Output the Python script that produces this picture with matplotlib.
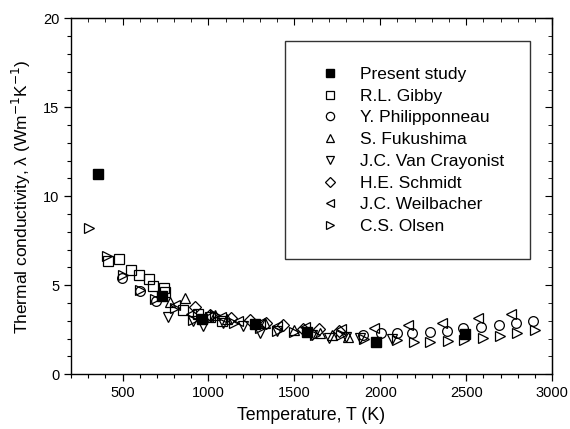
import matplotlib
matplotlib.use("Agg")
import matplotlib.pyplot as plt
from matplotlib.ticker import MultipleLocator
from matplotlib.patches import Rectangle

plt.rcParams['font.family'] = ['Liberation Sans', 'DejaVu Sans']

# Data
present_T = [357, 728, 961, 1272, 1576, 1975, 2492]
present_k = [11.25, 4.40, 3.08, 2.80, 2.35, 1.80, 2.25]

gibby_T = [415, 480, 550, 593, 656, 676, 741, 745, 850, 940, 1010, 1080]
gibby_k = [6.35, 6.45, 5.88, 5.56, 5.32, 4.95, 4.85, 4.6, 3.6, 3.4, 3.2, 3.0]

phil_T = [498, 602, 695, 1900, 2002, 2097, 2184, 2290, 2387, 2484, 2588, 2690, 2792, 2890]
phil_k = [5.40, 4.65, 4.10, 2.20, 2.29, 2.29, 2.30, 2.38, 2.40, 2.57, 2.66, 2.75, 2.85, 3.00]

fuku_T = [776, 863, 1036, 1110, 1330, 1500, 1650, 1720, 1810]
fuku_k = [4.06, 4.30, 3.30, 3.10, 2.90, 2.50, 2.30, 2.20, 2.10]

vanc_T = [766, 912, 970, 1084, 1200, 1297, 1400, 1600, 1700, 1800, 1880, 2069]
vanc_k = [3.22, 3.00, 2.70, 2.90, 2.70, 2.30, 2.45, 2.20, 2.05, 2.10, 2.05, 2.00]

schm_T = [921, 1010, 1133, 1240, 1336, 1432, 1550, 1644, 1760]
schm_k = [3.80, 3.30, 3.15, 3.05, 2.85, 2.75, 2.55, 2.55, 2.40]

weil_T = [805, 900, 1000, 1070, 1170, 1300, 1400, 1560, 1770, 1963, 2164, 2357, 2569, 2763]
weil_k = [3.90, 3.40, 3.20, 3.20, 3.00, 2.90, 2.70, 2.65, 2.55, 2.60, 2.75, 2.90, 3.15, 3.40]

olsen_T = [303, 410, 502, 602, 689, 805, 912, 1036, 1150, 1300, 1400, 1499, 1620, 1770,
           1905, 2097, 2194, 2290, 2392, 2490, 2599, 2696, 2797, 2898]
olsen_k = [8.24, 6.63, 5.56, 4.72, 4.20, 3.70, 3.05, 3.30, 2.90, 2.60, 2.40, 2.35, 2.20, 2.20,
           2.00, 1.91, 1.83, 1.83, 1.88, 1.93, 2.02, 2.12, 2.30, 2.47]

labels = ['Present study', 'R.L. Gibby', 'Y. Philipponneau', 'S. Fukushima',
          'J.C. Van Crayonist', 'H.E. Schmidt', 'J.C. Weilbacher', 'C.S. Olsen']

fig = plt.figure(figsize=(5.7, 4.29), dpi=100)
ax = fig.add_axes([0.1246, 0.128, 0.844, 0.829])

open_kw = dict(linestyle='none', markerfacecolor='none', markeredgecolor='black',
               markeredgewidth=0.9, markersize=7)
series = [
    (gibby_T, gibby_k, 's'),
    (phil_T, phil_k, 'o'),
    (fuku_T, fuku_k, '^'),
    (vanc_T, vanc_k, 'v'),
    (schm_T, schm_k, 'D'),
    (weil_T, weil_k, '<'),
    (olsen_T, olsen_k, '>'),
]
handles = []
hp, = ax.plot(present_T, present_k, 's', color='black', markersize=7.5, linestyle='none', zorder=5)
handles.append(hp)
for T, k, m in series:
    ms = 6 if m == 'D' else 7
    kw = dict(open_kw)
    kw['markersize'] = ms
    h, = ax.plot(T, k, m, **kw)
    handles.append(h)

ax.set_xlim(200, 3000)
ax.set_ylim(0, 20)
ax.xaxis.set_major_locator(MultipleLocator(500))
ax.xaxis.set_minor_locator(MultipleLocator(100))
ax.yaxis.set_major_locator(MultipleLocator(5))
ax.yaxis.set_minor_locator(MultipleLocator(1))
ax.tick_params(which='both', direction='out', top=False, right=False, labelsize=10.5)
ax.tick_params(which='major', length=5, width=0.9)
ax.tick_params(which='minor', length=3, width=0.8)
for sp in ax.spines.values():
    sp.set_linewidth(1.0)

# inward ticks on top and right
axt = ax.secondary_xaxis('top')
axt.xaxis.set_major_locator(MultipleLocator(500))
axt.xaxis.set_minor_locator(MultipleLocator(100))
axt.tick_params(which='both', direction='in', labeltop=False)
axt.tick_params(which='major', length=5)
axt.tick_params(which='minor', length=3)
axr = ax.secondary_yaxis('right')
axr.yaxis.set_major_locator(MultipleLocator(5))
axr.yaxis.set_minor_locator(MultipleLocator(1))
axr.tick_params(which='both', direction='in', labelright=False)
axr.tick_params(which='major', length=5)
axr.tick_params(which='minor', length=3)

ax.set_xlabel('Temperature, T (K)', fontsize=12.8, labelpad=5)
ax.set_ylabel('Thermal conductivity, λ (Wm$^{-1}$K$^{-1}$)', fontsize=12.5, labelpad=7)

# legend box
ax.add_patch(Rectangle((0.445, 0.323), 0.509, 0.614, transform=ax.transAxes,
                       fill=False, edgecolor='#333333', linewidth=1.0, zorder=6))
leg = ax.legend(handles, labels, loc='upper left', bbox_to_anchor=(0.521, 0.864),
                frameon=False, fontsize=12.5, handlelength=1.0, handletextpad=1.2,
                labelspacing=0.38, borderaxespad=0, borderpad=0, markerscale=0.85)

fig.savefig('out.png', dpi=100)
